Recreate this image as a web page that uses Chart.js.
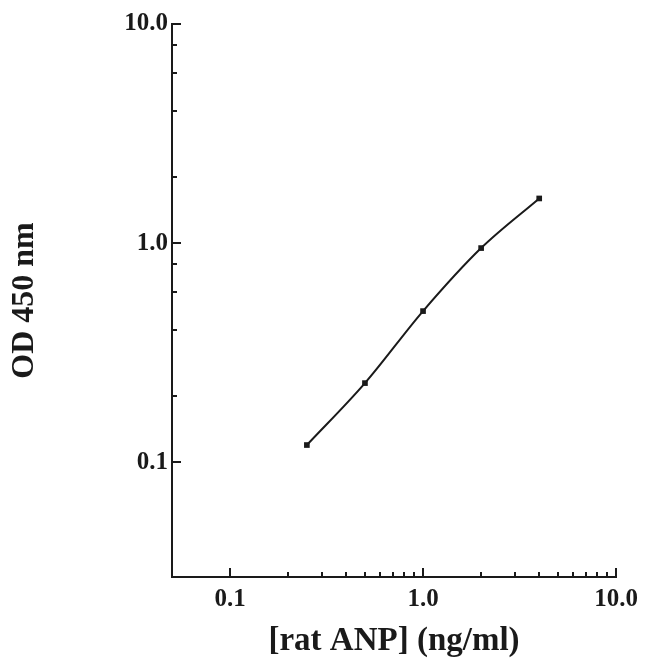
<!DOCTYPE html>
<html>
<head>
<meta charset="utf-8">
<script src="https://cdn.jsdelivr.net/npm/chart.js@4/dist/chart.umd.min.js"></script>
<style>
  body { margin: 0; background: #fff; }
  canvas { display: block; }
</style>
</head>
<body>
<canvas id="canvas" width="650" height="671"></canvas>
<script>
'use strict';

const concentrations = [0.25, 0.5, 1, 2, 4];
const odValues = [0.12, 0.23, 0.49, 0.95, 1.6];

const xMajorTicks = [0.1, 1, 10];
const xMinorTicks = [0.2, 0.3, 0.4, 0.5, 0.6, 0.7, 0.8, 0.9, 2, 3, 4, 5, 6, 7, 8, 9];
const yMajorTicks = [0.1, 1, 10];
const yMinorTicks = [0.2, 0.4, 0.6, 0.8, 2, 4, 6, 8];
const tickText = { 0.1: '0.1', 1: '1.0', 10: '10.0' };

const ink = '#1a1a1a';

// tick marks drawn on the inside of the axes
const insideTicks = {
  id: 'insideTicks',
  afterDraw(chart) {
    const { ctx, chartArea, scales } = chart;
    ctx.save();
    ctx.strokeStyle = ink;
    ctx.lineWidth = 2;
    const xMark = (v, len) => {
      const px = Math.round(scales.x.getPixelForValue(v));
      ctx.beginPath();
      ctx.moveTo(px, chartArea.bottom);
      ctx.lineTo(px, chartArea.bottom - len);
      ctx.stroke();
    };
    const yMark = (v, len) => {
      const py = Math.round(scales.y.getPixelForValue(v));
      ctx.beginPath();
      ctx.moveTo(chartArea.left, py);
      ctx.lineTo(chartArea.left + len, py);
      ctx.stroke();
    };
    xMajorTicks.forEach(v => xMark(v, 9));
    xMinorTicks.forEach(v => xMark(v, 5));
    yMajorTicks.forEach(v => yMark(v, 9));
    yMinorTicks.forEach(v => yMark(v, 5));
    ctx.restore();
  },
};

const serif = '"Liberation Serif", "Times New Roman", serif';

new Chart(document.getElementById('canvas').getContext('2d'), {
  type: 'line',
  data: {
    datasets: [
      {
        data: concentrations.map((c, i) => ({ x: c, y: odValues[i] })),
        borderColor: ink,
        borderWidth: 2,
        backgroundColor: ink,
        pointStyle: 'rect',
        pointRadius: 4,
        pointBorderWidth: 0,
        cubicInterpolationMode: 'monotone',
      },
    ],
  },
  options: {
    responsive: false,
    animation: false,
    layout: { padding: { top: 24, right: 34, left: 0, bottom: 0 } },
    plugins: { legend: { display: false }, tooltip: { enabled: false } },
    scales: {
      x: {
        type: 'logarithmic',
        min: 0.05,
        max: 10,
        afterBuildTicks: s => { s.ticks = xMajorTicks.map(v => ({ value: v })); },
        afterFit: s => { s.height = 94; },
        grid: { display: false },
        border: { display: true, color: ink, width: 2 },
        ticks: {
          autoSkip: false,
          maxRotation: 0,
          padding: 0,
          color: ink,
          font: { family: serif, size: 25, weight: 'bold' },
          callback: v => tickText[v] || '',
        },
        title: {
          display: true,
          text: '[rat ANP] (ng/ml)',
          color: ink,
          font: { family: serif, size: 33, weight: 'bold' },
          padding: { top: 0, bottom: 10 },
        },
      },
      y: {
        type: 'logarithmic',
        min: 0.03,
        max: 10,
        afterBuildTicks: s => { s.ticks = yMajorTicks.map(v => ({ value: v })); },
        afterFit: s => { s.width = 172; },
        grid: { display: false },
        border: { display: true, color: ink, width: 2 },
        ticks: {
          autoSkip: false,
          padding: -4,
          color: ink,
          font: { family: serif, size: 25, weight: 'bold' },
          callback: v => tickText[v] || '',
        },
        title: {
          display: true,
          text: 'OD 450 nm',
          color: ink,
          font: { family: serif, size: 32, weight: 'bold' },
          padding: { top: 6, bottom: 0 },
        },
      },
    },
  },
  plugins: [insideTicks],
});
</script>
</body>
</html>
